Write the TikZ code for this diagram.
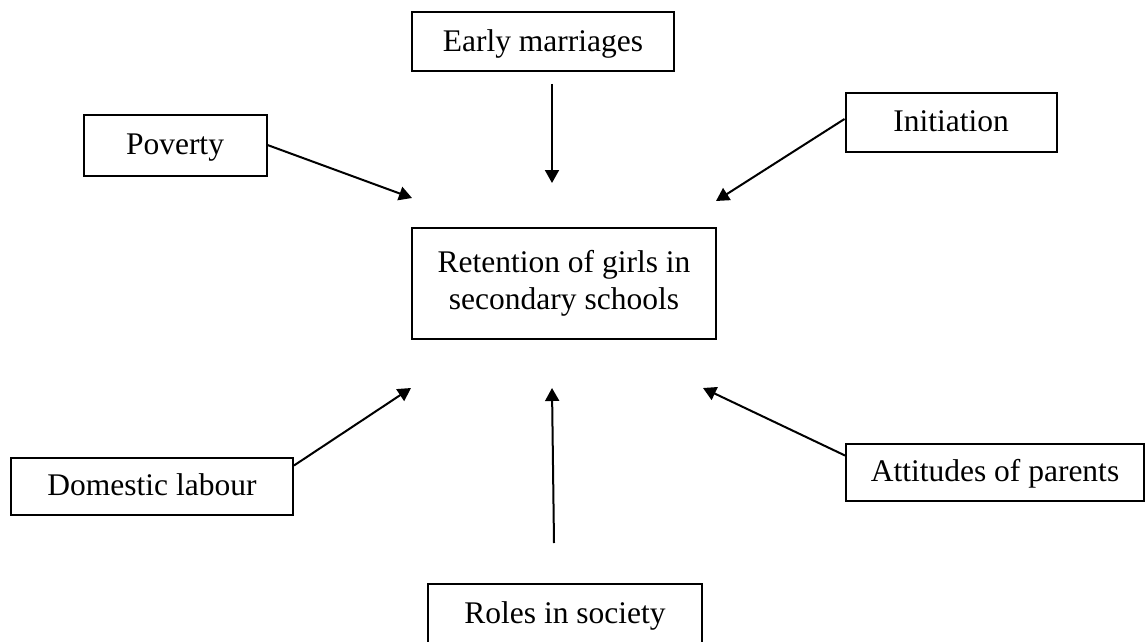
\documentclass[tikz,border=0pt]{standalone}
\usepackage{fontspec}
\setmainfont{Liberation Serif}
\usetikzlibrary{arrows.meta,calc}
\tikzset{
  factor/.style={draw, line width=2pt, inner sep=0pt, align=center,
    font=\fontsize{31.5}{37}\selectfont, text height=24pt, text depth=5pt},
  link/.style={line width=2pt, -{Triangle[length=13pt,width=14pt]}}
}
\begin{document}
\begin{tikzpicture}[x=1pt,y=-1pt]
\clip (0,0) rectangle (1146,642);
\fill[white] (0,0) rectangle (1146,642);
% boxes
\node[factor, minimum width=262pt, minimum height=59pt] (em) at (543,42) {Early marriages};
\node[factor, minimum width=183pt, minimum height=61pt] (pov) at (175,145) {Poverty};
\node[factor, minimum width=211pt, minimum height=59pt] (ini) at (951,122) {Initiation};
\node[factor, minimum width=304pt, minimum height=111pt, text height=, text depth=] (ret) at (564,283) {Retention of girls in\\secondary schools};
\node[factor, minimum width=282pt, minimum height=57pt] (dom) at (152,486) {Domestic labour};
\node[factor, minimum width=298pt, minimum height=57pt] (att) at (995,472) {Attitudes of parents};
\node[factor, minimum width=274pt, minimum height=60pt] (rol) at (565,614) {Roles in society};
% free ends and starts
\coordinate (emS) at (552,84);
\coordinate (emT) at (552,183);
\coordinate (povT) at (412,198);
\coordinate (iniT) at (716,201);
\coordinate (domS) at ($(dom.north east)+(0,9)$);
\coordinate (domT) at (411,388);
\coordinate (rolS) at (554,543);
\coordinate (rolT) at (552,388);
\coordinate (attS) at ($(att.north west)+(0,13)$);
\coordinate (attT) at (703,388);
% connectors
\draw[link] (emS) -- (emT);
\draw[link] (pov.east) -- (povT);
\draw[link] ($(ini.west)+(0,-3)$) -- (iniT);
\draw[link] (domS) -- (domT);
\draw[link] (rolS) -- (rolT);
\draw[link] (attS) -- (attT);
\end{tikzpicture}
\end{document}
